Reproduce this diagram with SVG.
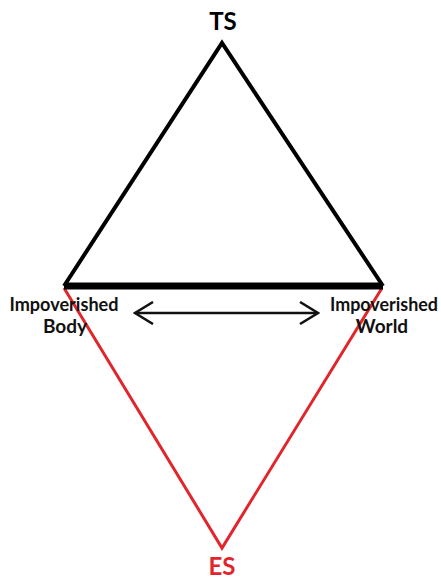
<svg xmlns="http://www.w3.org/2000/svg" width="441" height="580" viewBox="0 0 441 580">
<style>
.lbl{font-family:Lato,"Open Sans",sans-serif;font-weight:bold;font-size:19px;text-anchor:middle;fill:#111}
.big{font-family:Lato,"Open Sans",sans-serif;font-weight:bold;font-size:24px;text-anchor:middle}
</style>
<defs>
<marker id="ah" viewBox="0 0 24 24" refX="22" refY="12" markerWidth="24" markerHeight="24" markerUnits="userSpaceOnUse" orient="auto-start-reverse">
<path d="M4,1 L22,12 L4,23" fill="none" stroke="#111" stroke-width="2.5"/>
</marker>
</defs>
<rect width="441" height="580" fill="#fff"/>
<g id="connectors">
<path d="M64,288 L222,548 L382,288" fill="none" stroke="#e0262b" stroke-width="3"/>
<path d="M64,286 L222,43 L383,286" fill="none" stroke="#000" stroke-width="4" stroke-linejoin="miter"/>
<line x1="64" y1="286" x2="383" y2="286" stroke="#000" stroke-width="7"/>
<line x1="135" y1="313" x2="318" y2="313" stroke="#111" stroke-width="2.5" marker-start="url(#ah)" marker-end="url(#ah)"/>
</g>
<g id="TS"><text class="big" x="223" y="30" fill="#000">TS</text></g>
<g id="ES"><text class="big" x="222" y="575" fill="#e0262b">ES</text></g>
<g id="body"><text class="lbl" x="64" y="311" textLength="109" lengthAdjust="spacingAndGlyphs">Impoverished</text><text class="lbl" x="65" y="333">Body</text></g>
<g id="world"><text class="lbl" x="384" y="311" textLength="108" lengthAdjust="spacingAndGlyphs">Impoverished</text><text class="lbl" x="382" y="333">World</text></g>
</svg>
